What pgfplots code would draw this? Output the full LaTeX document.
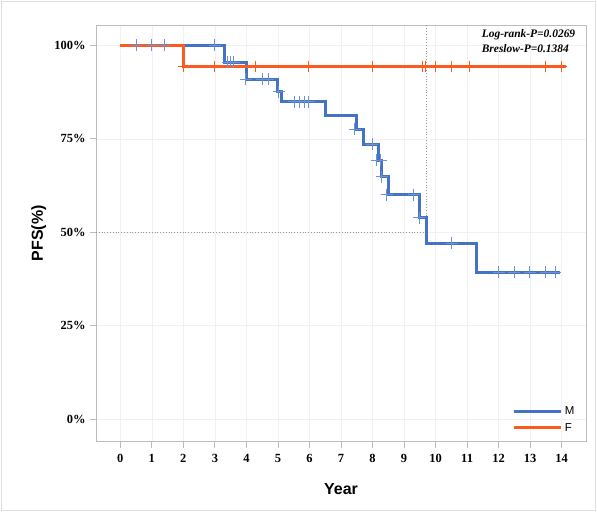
\documentclass[border=0pt]{standalone}
\usepackage{pgfplots}
\pgfplotsset{compat=1.18}
\usepackage{fontspec}
\setmainfont{Liberation Serif}
\newfontfamily\arialfont{Liberation Sans}

\definecolor{mblue}{HTML}{4472C4}
\definecolor{mbluemark}{HTML}{6A93D6}
\definecolor{forange}{HTML}{FC5A1E}
\definecolor{axisgray}{HTML}{BDBDBD}
\definecolor{gridgray}{HTML}{F1F1F1}

\begin{document}
\begin{tikzpicture}
\begin{axis}[
  at={(0,0)}, anchor=south west,
  scale only axis,
  width=490bp, height=416.7bp,
  xmin=-0.771, xmax=14.771,
  ymin=-0.0599, ymax=1.0543,
  xtick={0,1,...,14},
  xticklabels={0,1,2,3,4,5,6,7,8,9,10,11,12,13,14},
  ytick={0,0.25,0.5,0.75,1},
  yticklabels={0\%,25\%,50\%,75\%,100\%},
  tick align=outside,
  tick pos=left,
  major tick length=6bp,
  every tick/.style={axisgray, line width=0.8bp},
  axis line style={axisgray, line width=0.9bp},
  grid=major,
  major grid style={gridgray, line width=0.6bp},
  ticklabel style={font=\bfseries\fontsize{12.5}{14}\selectfont},
  xticklabel style={yshift=-3bp},
  yticklabel style={xshift=-1bp},
  every axis x label/.style={at={(axis description cs:0.5,0)}, yshift=-47.3bp, anchor=center},
  every axis y label/.style={at={(axis description cs:0,0.5)}, xshift=-57.3bp, rotate=90, anchor=center},
  label style={font=\arialfont\bfseries\fontsize{16}{18}\selectfont},
  xlabel={Year},
  ylabel={PFS(\%)},
  legend style={draw=none, fill=none, at={(axis description cs:0.987,0.012)}, anchor=south east,
                font=\arialfont\fontsize{11.5}{13}\selectfont, row sep=3bp},
  legend cell align=left,
  legend image code/.code={\draw[#1, line width=3bp] (0bp,0bp) -- (47bp,0bp);},
]

% median reference lines
\addplot[forget plot, gray!80, dotted, line width=0.8bp] coordinates {(-0.771,0.5) (9.7,0.5) (9.7,1.0543)};

% survival curves
\addplot[const plot, mblue, line width=3bp] coordinates {
  (0,1) (3.3,0.955) (4.0,0.909) (5.0,0.876) (5.1,0.849) (6.5,0.812)
  (7.5,0.775) (7.7,0.736) (8.2,0.693) (8.3,0.649) (8.5,0.600)
  (9.5,0.539) (9.7,0.471) (11.3,0.393) (13.95,0.393)};
\addlegendentry{M}
\addplot[const plot, forange, line width=3bp] coordinates {
  (0,1) (2.0,0.944) (14.15,0.944)};
\addlegendentry{F}

% censored observations
\addplot[forget plot, only marks, mark=+, mark size=6bp, mbluemark, mark options={line width=1bp}] coordinates {
  (0.5,1) (1.0,1) (1.4,1) (3.0,1)
  (3.4,0.955) (3.5,0.955) (3.6,0.955)
  (3.98,0.909) (4.5,0.909) (4.7,0.909)
  (5.02,0.876)
  (5.52,0.849) (5.68,0.849) (5.83,0.849) (5.98,0.849)
  (7.44,0.775) (7.99,0.736) (8.13,0.693) (8.26,0.693) (8.29,0.649)
  (8.45,0.600) (9.31,0.600) (9.48,0.539)
  (10.51,0.471)
  (12.01,0.393) (12.5,0.393) (12.99,0.393) (13.49,0.393) (13.79,0.393)};
\addplot[forget plot, only marks, mark=+, mark size=5.5bp, forange, mark options={line width=1bp}] coordinates {
  (2.0,0.944) (3.0,0.944) (4.3,0.944) (5.98,0.944) (8.0,0.944)
  (9.59,0.944) (9.69,0.944) (9.99,0.944) (10.5,0.944) (11.09,0.944)
  (13.49,0.944) (14.0,0.944)};

\node[font=\bfseries\fontsize{10}{12}\selectfont, text=gray!90!black, anchor=south, inner sep=1bp]
  at (axis cs:9.7,1.0543) [yshift=5bp] {9.7};
\node[font=\bfseries\itshape\fontsize{11.5}{15}\selectfont, anchor=north west, align=left, inner sep=0pt]
  at (axis cs:11.46,1.042) {Log-rank-P=0.0269\\Breslow-P=0.1384};
\end{axis}
\pgfresetboundingbox
\path (-96bp,-70.3bp) rectangle (501bp,441.7bp);
\draw[gray!25, line width=1bp] (-94.5bp,-68.8bp) rectangle (499.5bp,440.2bp);
\end{tikzpicture}
\end{document}
